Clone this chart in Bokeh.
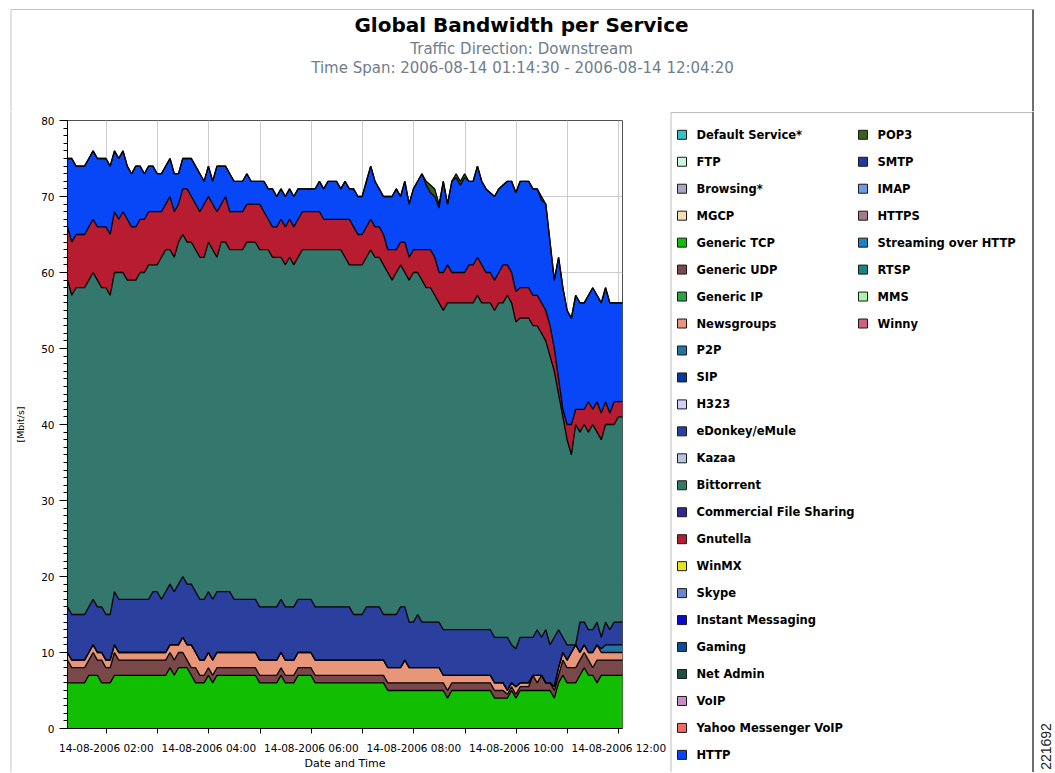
from math import pi
from bokeh.plotting import figure
from bokeh.layouts import column, row
from bokeh.models import ColumnDataSource, Range1d, FixedTicker, SingleIntervalTicker
from bokeh.core.properties import value
from bokeh.embed import file_html
from bokeh.resources import INLINE

# ---------------- texts ----------------
title_text = "Global Bandwidth per Service"
subtitle_1 = "Traffic Direction: Downstream"
subtitle_2 = "Time Span: 2006-08-14 01:14:30 - 2006-08-14 12:04:20"
y_label = "[Mbit/s]"
x_label = "Date and Time"
figure_id = "221692"

# ---------------- time axis ----------------
start_hour = 1 + 14 / 60 + 30 / 3600      # 01:14:30
end_hour = 12 + 4 / 60 + 20 / 3600        # 12:04:20
step_minutes = 5

tick_hours = [2, 4, 6, 8, 10, 12]
tick_labels = ["14-08-2006 02:00", "14-08-2006 04:00", "14-08-2006 06:00",
               "14-08-2006 08:00", "14-08-2006 10:00", "14-08-2006 12:00"]
minor_tick_hours = [3, 5, 7, 9, 11]

# ---------------- series (Mbit/s, one value per 5 minutes) ----------------
generic_tcp = [6,6,6,6,6,7,7,7,6,6,
               6,7,7,7,7,7,7,7,7,7,
               7,7,7,7,8,7,8,8,8,7,
               6,6,6,7,6,7,7,7,7,7,
               7,7,7,7,7,6,6,6,6,6,
               7,6,6,6,7,7,7,7,6,6,
               6,6,6,6,6,6,6,6,6,6,
               6,6,6,6,6,5,5,5,5,5,
               5,5,5,5,5,5,5,5,5,4,
               5,5,5,5,5,5,5,5,5,5,
               4,4,4,4,5,4,5,5,5,5,
               5,5,5,5,4,6,7,6,6,6,
               7,8,7,7,6,7,7,7,7,7,7]
generic_udp = [3,2,2,2,2,2,3,2,3,2,
               2,3,2,2,2,2,2,2,2,2,
               2,2,2,2,2,2,2,2,1,1,
               2,1,1,1,1,1,1,1,1,1,
               1,1,1,1,1,1,1,1,1,1,
               1,1,1,1,1,1,1,1,1,1,
               1,1,1,1,1,1,1,1,1,1,
               1,1,1,1,1,1,1,1,1,1,
               1,1,1,1,1,1,1,1,1,1,
               1,1,1,1,1,1,1,1,1,1,
               1,1,1,0.5,0.5,0.5,0.5,0.5,0.5,2,
               1,2,1,1,1,1,2,2,2,2,
               2,2,2,1,3,2,2,2,2,2,2]
newsgroups = [1,1,1,1,1,1,1,1,1,1,
              1,1,1,1,1,1,1,1,1,1,
              1,1,1,1,1,2,1,2,2,3,
              2,2,2,2,2,2,2,2,2,2,
              2,2,2,2,2,2,2,2,2,2,
              2,2,2,2,2,2,2,2,2,2,
              2,2,2,2,2,2,2,2,2,2,
              2,2,2,2,2,2,2,2,2,3,
              2,2,2,2,2,2,2,2,1,2,
              1,1,1,1,1,1,1,1,1,1,
              1,1,1,0.5,0.5,1,0.5,0.5,0.5,0,
              1,0,0,0,0.5,1,1,1,2,3,
              1,1,1,2,2,1,1,1,1,1,1]
p2p = [0,0,0,0,0,0,0,0,0,0,
       0,0,0,0,0,0,0,0,0,0,
       0,0,0,0,0,0,0,0,0,0,
       0,0,0,0,0,0,0,0,0,0,
       0,0,0,0,0,0,0,0,0,0,
       0,0,0,0,0,0,0,0,0,0,
       0,0,0,0,0,0,0,0,0,0,
       0,0,0,0,0,0,0,0,0,0,
       0,0,0,0,0,0,0,0,0,0,
       0,0,0,0,0,0,0,0,0,0,
       0,0,0,0,0,0,0,0,0,0,
       0,0,0,0,0,0,0,0,0,0,
       0,0,0,0,0,0.5,1,1,1,1,1]
edonkey = [6,6,6,6,6,6,6,6,6,6,
           6,7,7,7,7,7,7,7,7,7,
           8,8,7,8,8,7,8,8,8,8,
           8,8,8,8,8,8,8,8,8,7,
           7,7,7,7,7,7,7,7,7,7,
           7,7,7,7,7,7,7,7,7,7,
           7,7,7,7,7,7,7,6,6,6,
           7,7,7,7,6,7,7,7,8,7,
           6,6,7,6,6,6,6,6,6,6,
           6,6,6,6,6,6,6,6,6,6,
           6,6,6,7,5,5,6,6,6,5,
           6,5,7,5,6.5,5,2,2,1,0,
           4,3,3,3,3,1.5,3,2,3,3,3]
bittorrent = [43,42,43,43,43,43,43,43,42,43,
              42,42,43,43,42,42,42,43,43,44,
              43,43,45,45,44,44,45,45,45,45,
              45,45,45,46,46,44,46,46,45,46,
              46,46,47,47,47,47,47,47,46,46,
              45,45,46,45,45,46,46,46,47,47,
              47,47,47,47,47,46,45,46,46,46,
              46,47,46,46,46,45,44,45,45,44,
              45,46,45,45,44,44,43,42,42,43,
              43,43,43,43,43,43,44,43,43,43,
              43,44,44,45,45,43,42,42,42,41,
              40,40,38,38,35,31,29,27,25,29,
              25,26,26,27,25,26,26,27,26,27,27]
gnutella = [7,7,7,7,7,7,7,7,8,8,
            8,8,7,8,8,7,7,7,7,7,
            7,7,6,6,7,6,5,6,7,6,
            6,6,7,6,6,6,5,6,5,5,
            5,5,5,5,5,6,5,4,4,4,
            5,5,5,5,5,5,5,5,5,5,
            4,4,4,4,4,5,6,5,4,4,
            4,4,4,4,4,3,4,3,3,4,
            3,3,3,4,5,5,5,4,5,5,
            4,4,4,4,5,5,5,5,4,4,
            4,4,5,4,4,4,4,4,4,4,
            4,4,4,4,3,2,1,2,4,2,
            3,2,4,2,4,3.5,3,1.5,3,2,2]
http = [9,11,9,9,9,9,9,9,9,9,
        9,8,8,8,7,7,8,7,6,6,
        6,5,5,5,5,5,4,4,4,5,
        5,5,3,4,3,6,5,4,5,4,
        4,4,4,3,3,3,4,4,5,4,
        4,4,4,4,4,3,3,3,3,4,
        4,5,5,5,4,5,4,5,5,5,
        6,7,6,5,5,7,7,8,6,8,
        7,8,9,10,8.5,7.5,8,8.5,12,8,
        12,12.5,11.5,12.5,11,11,12,11,11,10.5,
        11,11,10.5,11,12,13,14,14,14,14,
        14,13.5,14,11,9,16,16,15,14,15,
        14,14,14,16,14,14.5,15,14.5,13,13,13]
pop3 = [0,0,0,0,0,0,0,0,0,0,
        0,0,0,0,0,0,0,0,0,0,
        0,0,0,0,0,0,0,0,0,0,
        0,0,0,0,0,0,0,0,0,0,
        0,0,0,0,0,0,0,0,0,0,
        0,0,0,0,0,0,0,0,0,0,
        0,0,0,0,0,0,0,0,0,0,
        0,0,0,0,0,0,0,0,0,0,
        0,0,0,0,0.5,1,1,0.5,0,0,
        0,0.5,0.5,0.5,0,0,0,0,0,0,
        0,0,0,0,0,0,0,0,0,0,
        0,0.5,0,0,0,0,0,0,0,0,
        0,0,0,0,0,0,0,0,0,0,0]

# ---------------- legend (all services) ----------------
legend_col1_names = ["Default Service*", "FTP", "Browsing*", "MGCP", "Generic TCP",
                     "Generic UDP", "Generic IP", "Newsgroups", "P2P", "SIP", "H323",
                     "eDonkey/eMule", "Kazaa", "Bittorrent", "Commercial File Sharing",
                     "Gnutella", "WinMX", "Skype", "Instant Messaging", "Gaming",
                     "Net Admin", "VoIP", "Yahoo Messenger VoIP", "HTTP"]
legend_col1_colors = ["#33C3C3", "#CBF7D5", "#A9A6C6", "#F5DDB6", "#12BE02",
                      "#7A4848", "#27A545", "#E8957A", "#2274A4", "#0B3A9E", "#D2CEF6",
                      "#2B3F9E", "#B6C5DC", "#34786D", "#2E2A8E",
                      "#B71C30", "#ECE31A", "#6A86CF", "#0A0ACB", "#0D4C99",
                      "#1E4E44", "#C98BCB", "#F76A64", "#0747F8"]
legend_col2_names = ["POP3", "SMTP", "IMAP", "HTTPS", "Streaming over HTTP",
                     "RTSP", "MMS", "Winny"]
legend_col2_colors = ["#3A6117", "#203A9C", "#6C9AE6", "#A27C8A", "#1E80C6",
                      "#198282", "#AAF5AA", "#D1607F"]

stack_names = ["Generic TCP", "Generic UDP", "Newsgroups", "P2P", "eDonkey/eMule",
               "Bittorrent", "Gnutella", "HTTP", "POP3"]
stack_values = [generic_tcp, generic_udp, newsgroups, p2p, edonkey,
                bittorrent, gnutella, http, pop3]

all_colors = dict(zip(legend_col1_names + legend_col2_names,
                      legend_col1_colors + legend_col2_colors))

# ---------------- page geometry (pixels) ----------------
W, H = 1054, 772
HEADER_H = 111
BODY_H = H - HEADER_H
STRIP_W = 12
MAIN_W = 657
LEG_X0 = STRIP_W + MAIN_W
LEG_W = W - LEG_X0
FONT = "DejaVu Sans"


def blank(width, height, x0, x1, y_top, y_bottom):
    f = figure(width=width, height=height, output_backend="svg", toolbar_location=None,
               x_range=Range1d(x0, x1), y_range=Range1d(y_bottom, y_top),
               x_axis_location=None, y_axis_location=None,
               min_border_left=0, min_border_right=0, min_border_top=0,
               min_border_bottom=0, background_fill_color="white",
               border_fill_color="white", frame_align=False)
    f.outline_line_color = None
    f.grid.visible = False
    return f


# ---------------- header: titles + outer frame ----------------
header = blank(W, HEADER_H, 0, W, 0, HEADER_H)
header.segment(x0=[10.5, 10.5], y0=[9, 9], x1=[1032.5, 10.5], y1=[9, HEADER_H],
               line_color="#C4C4C4", line_width=1)
header.segment(x0=[1032.5], y0=[9], x1=[1032.5], y1=[HEADER_H],
               line_color="#6E6E6E", line_width=2)
header.text(x=[521], y=[24], text=[title_text], text_font=value(FONT),
            text_font_size="20px", text_font_style="bold", text_color="black",
            text_align="center", text_baseline="middle")
header.text(x=[521, 522], y=[48, 67], text=[subtitle_1, subtitle_2],
            text_font=value(FONT), text_font_size="15px", text_color="#6F7D8C",
            text_align="center", text_baseline="middle")

# ---------------- left strip: outer frame ----------------
strip = blank(STRIP_W, BODY_H, 0, STRIP_W, HEADER_H, H)
strip.segment(x0=[10.5], y0=[HEADER_H], x1=[10.5], y1=[H],
              line_color="#C4C4C4", line_width=1)

# ---------------- main chart ----------------
n = len(generic_tcp)
x_hours = [start_hour + i * step_minutes / 60 for i in range(n)]
keys = ["s%d" % k for k in range(len(stack_names))]
data = {"x": x_hours}
for k, vals in zip(keys, stack_values):
    data[k] = vals
source = ColumnDataSource(data)

p = figure(width=MAIN_W, height=BODY_H, output_backend="svg", toolbar_location=None,
           x_range=Range1d(start_hour, end_hour), y_range=Range1d(0, 80),
           min_border_left=55, min_border_right=MAIN_W - 610, min_border_top=9,
           min_border_bottom=44, frame_align=False,
           background_fill_color="white", border_fill_color="white")
p.outline_line_color = "#505050"
p.outline_line_width = 1

p.varea_stack(keys, x="x", color=[all_colors[nm] for nm in stack_names], source=source)
p.vline_stack(keys, x="x", line_color="black", line_width=1.3, source=source)

xt = FixedTicker(ticks=tick_hours, minor_ticks=minor_tick_hours)
p.xaxis.ticker = xt
p.xgrid.ticker = xt
p.xaxis.major_label_overrides = {t: lab for t, lab in zip(tick_hours, tick_labels)}
yt = SingleIntervalTicker(interval=10, num_minor_ticks=10)
p.yaxis.ticker = yt
p.ygrid.ticker = yt

for ax in (p.xaxis[0], p.yaxis[0]):
    ax.axis_line_color = "black"
    ax.major_tick_line_color = "black"
    ax.minor_tick_line_color = "black"
    ax.major_tick_in = 0
    ax.minor_tick_in = 0
    ax.major_label_text_font = FONT
    ax.major_label_text_font_size = "10.5px"
    ax.major_label_text_color = "black"
    ax.axis_label_text_font = FONT
    ax.axis_label_text_font_style = "normal"
    ax.axis_label_text_color = "black"

p.xaxis.major_tick_out = 5
p.xaxis.minor_tick_out = 5
p.xaxis.major_label_standoff = 8
p.xaxis.axis_label = x_label
p.xaxis.axis_label_text_font_size = "11px"
p.xaxis.axis_label_standoff = 0

p.yaxis.major_tick_out = 8
p.yaxis.minor_tick_out = 4
p.yaxis.major_label_standoff = 5
p.yaxis.axis_label = y_label
p.yaxis.axis_label_text_font_size = "9.5px"
p.yaxis.axis_label_standoff = 12

grid_col = "#CCCCCC"
p.xgrid.grid_line_color = grid_col
p.xgrid.minor_grid_line_color = grid_col
p.ygrid.grid_line_color = grid_col

# ---------------- legend panel ----------------
leg = blank(LEG_W, BODY_H, LEG_X0, W, HEADER_H, H)
leg.segment(x0=[670.5, 670.5], y0=[112, 112], x1=[1032.5, 670.5], y1=[112, H],
            line_color="#BDBDBD", line_width=1)
leg.segment(x0=[1032.5], y0=[HEADER_H], x1=[1032.5], y1=[H],
            line_color="#6E6E6E", line_width=2)

row0, row_step = 134.3, 26.96
sw_x, sw_y, sw_c, tx_x, tx_y, tx_t = [], [], [], [], [], []
for col_x, names, colors in ((681.5, legend_col1_names, legend_col1_colors),
                             (862.5, legend_col2_names, legend_col2_colors)):
    for k, (nm, c) in enumerate(zip(names, colors)):
        cy = row0 + k * row_step
        sw_x.append(col_x)
        sw_y.append(cy)
        sw_c.append(c)
        tx_x.append(col_x + 14.5)
        tx_y.append(cy)
        tx_t.append(nm)

leg.rect(x=sw_x, y=sw_y, width=9, height=9, fill_color=sw_c,
         line_color="#1A1A1A", line_width=1)
leg.text(x=tx_x, y=tx_y, text=tx_t, text_font=value(FONT), text_font_size="11.5px",
         text_font_style="bold", text_color="black", text_align="left",
         text_baseline="middle")
leg.text(x=[1045.5], y=[746], text=[figure_id], text_font=value("Liberation Sans"),
         text_font_size="14px", text_color="#222222", text_align="center",
         text_baseline="middle", angle=pi / 2)

layout = column(header, row(strip, p, leg))
open("out.html", "w").write(file_html(layout, INLINE))
